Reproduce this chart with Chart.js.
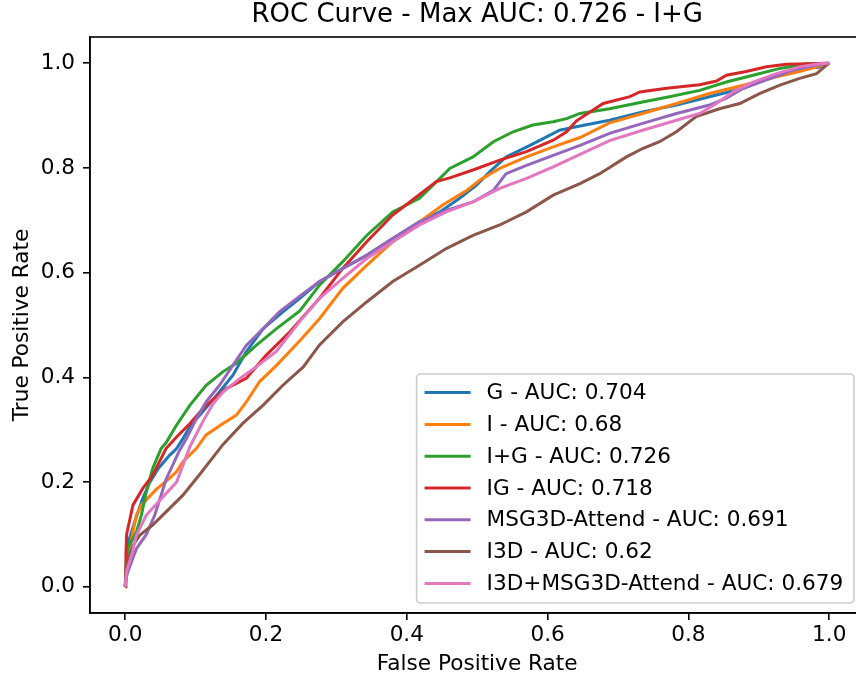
<!DOCTYPE html>
<html><head><meta charset="utf-8">
<script src="https://cdn.jsdelivr.net/npm/chart.js@4.4.1/dist/chart.umd.min.js"></script>
<style>html,body{margin:0;padding:0;overflow:hidden;background:#fff}#wrap{width:880px;height:681px}</style>
</head><body><div id="wrap"><canvas id="c" width="880" height="681"></canvas></div>
<script>
const chartTitle = 'ROC Curve - Max AUC: 0.726 - I+G';
const xAxisTitle = 'False Positive Rate';
const yAxisTitle = 'True Positive Rate';
const tickValues = [0, 0.2, 0.4, 0.6, 0.8, 1.0];
const seriesNames = ['G - AUC: 0.704','I - AUC: 0.68','I+G - AUC: 0.726','IG - AUC: 0.718','MSG3D-Attend - AUC: 0.691','I3D - AUC: 0.62','I3D+MSG3D-Attend - AUC: 0.679'];
const seriesColors = ['#1f77b4','#ff7f0e','#2ca02c','#d62728','#9467bd','#8c564b','#e377c2'];

const fpr_G = [0,0.003,0.015,0.025,0.035,0.047,0.063,0.073,0.082,0.092,0.106,0.130,0.153,0.172,0.196,0.224,0.248,0.276,0.309,0.343,0.380,0.418,0.447,0.475,0.499,0.518,0.541,0.575,0.617,0.646,0.688,0.735,0.783,0.830,0.878,0.925,0.958,0.985,1];
const tpr_G = [0,0.080,0.130,0.169,0.200,0.226,0.251,0.264,0.283,0.306,0.328,0.366,0.404,0.449,0.493,0.525,0.551,0.583,0.608,0.633,0.665,0.697,0.716,0.742,0.767,0.793,0.821,0.843,0.872,0.880,0.891,0.907,0.920,0.936,0.952,0.977,0.990,0.992,1];

const fpr_I = [0,0.002,0.006,0.016,0.023,0.044,0.063,0.073,0.082,0.101,0.115,0.139,0.158,0.172,0.191,0.215,0.248,0.276,0.309,0.343,0.380,0.418,0.451,0.485,0.504,0.532,0.570,0.608,0.646,0.688,0.735,0.783,0.830,0.878,0.925,0.958,0.982,1];
const tpr_I = [0,0.050,0.073,0.137,0.156,0.186,0.207,0.220,0.239,0.264,0.290,0.312,0.328,0.353,0.392,0.423,0.470,0.512,0.570,0.614,0.659,0.697,0.729,0.757,0.777,0.799,0.821,0.840,0.858,0.886,0.904,0.923,0.942,0.958,0.974,0.984,0.993,1];

const fpr_IplusG = [0,0.002,0.004,0.016,0.023,0.030,0.039,0.051,0.058,0.073,0.092,0.115,0.139,0.158,0.186,0.215,0.248,0.276,0.309,0.343,0.380,0.418,0.447,0.461,0.494,0.523,0.551,0.579,0.608,0.627,0.646,0.688,0.735,0.773,0.816,0.854,0.892,0.930,0.968,1];
const tpr_IplusG = [0,0.050,0.075,0.105,0.137,0.181,0.226,0.264,0.275,0.309,0.347,0.385,0.411,0.427,0.461,0.493,0.527,0.576,0.621,0.671,0.716,0.742,0.780,0.799,0.821,0.850,0.869,0.882,0.888,0.894,0.904,0.913,0.926,0.936,0.948,0.964,0.977,0.990,0.999,1];

const fpr_IG = [0,0.001,0.002,0.011,0.025,0.039,0.058,0.073,0.092,0.113,0.144,0.172,0.200,0.234,0.276,0.309,0.343,0.380,0.414,0.442,0.461,0.494,0.532,0.570,0.608,0.627,0.641,0.679,0.717,0.731,0.769,0.816,0.840,0.854,0.882,0.911,0.939,1];
const tpr_IG = [0,0.060,0.100,0.156,0.188,0.213,0.264,0.286,0.312,0.344,0.379,0.398,0.442,0.487,0.551,0.608,0.659,0.710,0.745,0.774,0.781,0.796,0.815,0.831,0.853,0.869,0.890,0.923,0.936,0.945,0.952,0.959,0.966,0.977,0.984,0.993,0.998,1];

const fpr_MSG = [0,0.002,0.004,0.016,0.030,0.042,0.051,0.058,0.077,0.087,0.101,0.115,0.134,0.153,0.172,0.196,0.219,0.248,0.276,0.309,0.343,0.380,0.418,0.456,0.494,0.523,0.541,0.570,0.608,0.646,0.688,0.735,0.783,0.830,0.854,0.878,0.911,0.949,0.980,1];
const tpr_MSG = [0,0.020,0.030,0.073,0.100,0.137,0.175,0.205,0.260,0.283,0.321,0.353,0.385,0.423,0.461,0.493,0.525,0.555,0.583,0.608,0.633,0.665,0.697,0.719,0.735,0.757,0.789,0.805,0.824,0.843,0.866,0.885,0.904,0.920,0.933,0.952,0.968,0.987,0.996,1];

const fpr_I3D = [0,0.002,0.011,0.021,0.039,0.058,0.082,0.106,0.139,0.167,0.196,0.224,0.253,0.276,0.309,0.343,0.380,0.418,0.456,0.494,0.532,0.570,0.608,0.646,0.674,0.712,0.735,0.759,0.783,0.811,0.844,0.873,0.901,0.930,0.958,0.982,0.995,1];
const tpr_I3D = [0,0.041,0.079,0.099,0.118,0.143,0.175,0.215,0.272,0.312,0.347,0.385,0.420,0.462,0.506,0.544,0.583,0.614,0.646,0.671,0.691,0.716,0.748,0.770,0.789,0.821,0.837,0.850,0.869,0.898,0.913,0.923,0.942,0.958,0.971,0.980,0.995,1];

const fpr_I3DMSG = [0,0.002,0.009,0.016,0.030,0.049,0.073,0.092,0.110,0.125,0.139,0.163,0.186,0.215,0.248,0.276,0.309,0.343,0.380,0.418,0.456,0.494,0.532,0.570,0.608,0.646,0.688,0.735,0.783,0.816,0.840,0.863,0.892,0.925,0.958,0.985,1];
const tpr_I3DMSG = [0,0.030,0.060,0.099,0.137,0.165,0.200,0.268,0.315,0.350,0.372,0.398,0.420,0.450,0.507,0.551,0.589,0.627,0.659,0.691,0.716,0.735,0.761,0.780,0.802,0.826,0.852,0.872,0.891,0.904,0.923,0.945,0.964,0.980,0.993,0.999,1];

const fprList = [fpr_G, fpr_I, fpr_IplusG, fpr_IG, fpr_MSG, fpr_I3D, fpr_I3DMSG];
const tprList = [tpr_G, tpr_I, tpr_IplusG, tpr_IG, tpr_MSG, tpr_I3D, tpr_I3DMSG];

const FONT = 'DejaVu Sans';
const FS = 21.6;
Chart.defaults.font.family = FONT;
Chart.defaults.color = '#000';

const datasets = seriesNames.map((name, k) => ({
  label: name,
  data: fprList[k].map((x, i) => ({x: x, y: tprList[k][i]})),
  borderColor: seriesColors[k],
  backgroundColor: seriesColors[k],
  borderWidth: 3,
  pointRadius: 0,
  tension: 0,
  fill: false,
  order: seriesNames.length - k
}));

const framePlugin = {
  id: 'frame',
  afterDatasetsDraw(chart) {
    const {ctx, chartArea: a} = chart;
    ctx.save();
    ctx.strokeStyle = '#000';
    ctx.lineWidth = 1.6;
    ctx.strokeRect(a.left, a.top, a.right - a.left, a.bottom - a.top);
    ctx.restore();
  }
};

const innerLegend = {
  id: 'innerLegend',
  afterDraw(chart) {
    const {ctx, chartArea: a} = chart;
    ctx.save();
    ctx.font = FS + 'px "' + FONT + '"';
    const tw = Math.max(...seriesNames.map(n => ctx.measureText(n).width));
    const rowH = 31.8, padL = 8, handleLen = 46, gap = 16, padR = 10.7, padV = 3.2;
    const w = padL + handleLen + gap + tw + padR;
    const h = seriesNames.length * rowH + 2 * padV;
    const right = a.right - 10.4, bottom = a.bottom - 10;
    const left = right - w, top = bottom - h;
    ctx.beginPath();
    ctx.roundRect(left, top, w, h, 4);
    ctx.fillStyle = 'rgba(255,255,255,0.8)';
    ctx.fill();
    ctx.strokeStyle = '#cccccc';
    ctx.lineWidth = 1.6;
    ctx.stroke();
    ctx.textBaseline = 'middle';
    ctx.textAlign = 'left';
    seriesNames.forEach((n, i) => {
      const cy = top + padV + rowH * (i + 0.5) - 0.5;
      ctx.strokeStyle = seriesColors[i];
      ctx.lineWidth = 3;
      ctx.beginPath();
      ctx.moveTo(left + padL, cy);
      ctx.lineTo(left + padL + handleLen, cy);
      ctx.stroke();
      ctx.fillStyle = '#000';
      ctx.fillText(n, left + padL + handleLen + gap, cy + 1);
    });
    ctx.restore();
  }
};

const axisCommon = (titleText, titlePad, tickPad) => ({
  type: 'linear',
  min: -0.05,
  max: 1.05,
  afterBuildTicks: s => { s.ticks = tickValues.map(v => ({value: v})); },
  ticks: {callback: v => Number(v).toFixed(1), font: {size: FS}, color: '#000', padding: tickPad, maxRotation: 0, autoSkip: false},
  grid: {drawOnChartArea: false, drawTicks: true, tickLength: 7, color: '#000', lineWidth: 1.6},
  border: {display: true, color: '#000', width: 1.6},
  title: {display: true, text: titleText, font: {size: FS}, color: '#000', padding: titlePad}
});

const xScale = axisCommon(xAxisTitle, {top: 6, bottom: 4}, 2);
xScale.afterFit = s => { s.height = 68; };
const yScale = axisCommon(yAxisTitle, {top: 9, bottom: 0}, 8);
yScale.afterFit = s => { s.width = 90; };

new Chart(document.getElementById('c'), {
  type: 'line',
  data: {datasets: datasets},
  options: {
    responsive: false,
    devicePixelRatio: 1,
    animation: false,
    layout: {padding: {left: 0, right: 15.6, top: 0, bottom: 0}},
    scales: {x: xScale, y: yScale},
    plugins: {
      legend: {display: false},
      tooltip: {enabled: false},
      title: {display: true, text: chartTitle, fullSize: false, font: {size: 26, weight: 'normal', lineHeight: 1.0}, color: '#000', padding: {top: 2.5, bottom: 8.5}}
    }
  },
  plugins: [framePlugin, innerLegend]
});
</script>
</body></html>
